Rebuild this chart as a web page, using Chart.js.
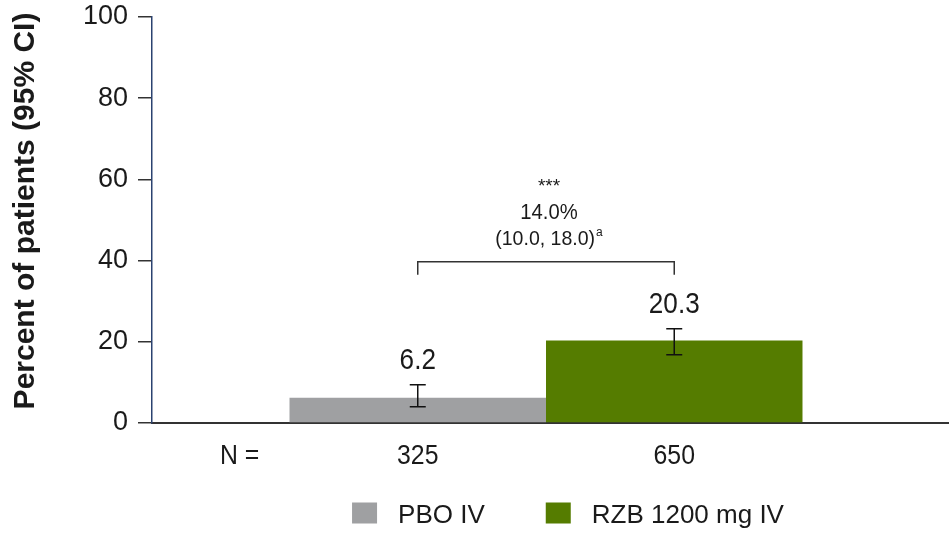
<!DOCTYPE html>
<html>
<head>
<meta charset="utf-8">
<script src="https://cdn.jsdelivr.net/npm/chart.js@4/dist/chart.umd.min.js"></script>
<style>
  html, body { margin: 0; padding: 0; background: #ffffff; }
  #wrap { width: 949px; height: 538px; position: relative; }
</style>
</head>
<body>
<div id="wrap"><canvas id="chart"></canvas></div>
<script>
// Treatment groups and their response rates (percent of patients, 95% CI)
const groups = ['PBO IV', 'RZB 1200 mg IV'];
const percents = [6.2, 20.3];
const ciLow = [4.0, 16.8];
const ciHigh = [9.4, 23.2];
const nPatients = [325, 650];
const barColors = ['#9FA0A2', '#557C00'];

// Treatment difference annotation
const diffStars = '***';
const diffValue = '14.0%';
const diffCI = '(10.0, 18.0)';
const diffFootnote = 'a';
const bracketLevel = 39.7;

// Y axis
const yMin = 0;
const yMax = 100;
const yStep = 20;
const yTitle = 'Percent of patients (95% CI)';

const FONT = "'Liberation Sans', Arial, Helvetica, sans-serif";
const TEXT = '#1a1a1a';

// draw text squeezed horizontally by sx around its anchor
function squeezedText(ctx, text, x, y, sx) {
  ctx.save();
  ctx.translate(x, y);
  ctx.scale(sx, 1);
  ctx.fillText(text, 0, 0);
  ctx.restore();
}

const overlay = {
  id: 'overlay',
  afterDatasetsDraw(chart) {
    const ctx = chart.ctx;
    const ys = chart.scales.y;
    const area = chart.chartArea;
    const bars = chart.data.datasets.map((d, i) => chart.getDatasetMeta(i).data[0]);

    ctx.save();

    // extend the baseline to the right edge
    const baseY = ys.getPixelForValue(0);
    ctx.strokeStyle = '#333333';
    ctx.lineWidth = 2;
    ctx.beginPath();
    ctx.moveTo(area.right, baseY);
    ctx.lineTo(chart.width, baseY);
    ctx.stroke();

    // y axis title
    ctx.save();
    ctx.translate(26, (area.top + area.bottom) / 2 - 9);
    ctx.rotate(-Math.PI / 2);
    ctx.fillStyle = TEXT;
    ctx.font = 'bold 30px ' + FONT;
    ctx.textAlign = 'center';
    ctx.textBaseline = 'middle';
    ctx.fillText(yTitle, 0, 0);
    ctx.restore();

    // error bars and value labels
    bars.forEach((bar, i) => {
      const x = bar.x;
      const top = ys.getPixelForValue(ciHigh[i]);
      const bot = ys.getPixelForValue(ciLow[i]);
      ctx.strokeStyle = '#111111';
      ctx.lineWidth = 1.5;
      ctx.beginPath();
      ctx.moveTo(x, top); ctx.lineTo(x, bot);
      ctx.moveTo(x - 8, top); ctx.lineTo(x + 8, top);
      ctx.moveTo(x - 8, bot); ctx.lineTo(x + 8, bot);
      ctx.stroke();

      ctx.fillStyle = TEXT;
      ctx.font = '30px ' + FONT;
      ctx.textAlign = 'center';
      ctx.textBaseline = 'alphabetic';
      squeezedText(ctx, percents[i].toFixed(1), x, top - 16, 0.87);
    });

    // bracket between the two groups
    const bx0 = bars[0].x, bx1 = bars[1].x;
    const by = ys.getPixelForValue(bracketLevel);
    ctx.strokeStyle = '#333333';
    ctx.lineWidth = 1.5;
    ctx.beginPath();
    ctx.moveTo(bx0, by + 13);
    ctx.lineTo(bx0, by);
    ctx.lineTo(bx1, by);
    ctx.lineTo(bx1, by + 13);
    ctx.stroke();

    const mid = (bx0 + bx1) / 2 + 3;
    ctx.fillStyle = TEXT;
    ctx.textAlign = 'center';
    ctx.textBaseline = 'alphabetic';
    ctx.font = '19px ' + FONT;
    ctx.fillText(diffStars, mid, by - 70);
    ctx.font = '22px ' + FONT;
    squeezedText(ctx, diffValue, mid, by - 43, 0.92);

    const sx = 0.93;
    ctx.font = '21px ' + FONT;
    const ciW = ctx.measureText(diffCI).width * sx;
    ctx.font = '12px ' + FONT;
    const supW = ctx.measureText(diffFootnote).width;
    const startX = mid - (ciW + supW + 1) / 2;
    ctx.textAlign = 'left';
    ctx.font = '21px ' + FONT;
    squeezedText(ctx, diffCI, startX, by - 17, sx);
    ctx.font = '12px ' + FONT;
    ctx.fillText(diffFootnote, startX + ciW + 1, by - 26);

    // N row
    const nY = baseY + 41;
    ctx.font = '27px ' + FONT;
    ctx.textAlign = 'left';
    squeezedText(ctx, 'N =', area.left + 68, nY, 0.92);
    ctx.textAlign = 'center';
    bars.forEach((bar, i) => squeezedText(ctx, String(nPatients[i]), bar.x, nY, 0.92));

    // legend
    ctx.font = '26px ' + FONT;
    const boxW = 25, boxH = 21, gap = 21, itemGap = 61;
    const widths = groups.map(g => ctx.measureText(g).width);
    const total = widths.reduce((s, w) => s + boxW + gap + w, 0) + itemGap * (groups.length - 1);
    let lx = (area.left + area.right) / 2 + 22 - total / 2;
    const legY = baseY + 90;
    ctx.textAlign = 'left';
    groups.forEach((g, i) => {
      ctx.fillStyle = barColors[i];
      ctx.fillRect(lx, legY - boxH / 2, boxW, boxH);
      ctx.fillStyle = TEXT;
      ctx.fillText(g, lx + boxW + gap, legY + 10);
      lx += boxW + gap + widths[i] + itemGap;
    });

    ctx.restore();
  }
};

new Chart(document.getElementById('chart'), {
  type: 'bar',
  data: {
    labels: [''],
    datasets: groups.map((g, i) => ({
      label: g,
      data: [percents[i]],
      backgroundColor: barColors[i],
      borderWidth: 0,
      categoryPercentage: 0.651,
      barPercentage: 1.0
    }))
  },
  options: {
    responsive: true,
    maintainAspectRatio: false,
    animation: false,
    layout: { padding: { top: 17, right: 9, bottom: 0, left: 0 } },
    plugins: {
      legend: { display: false },
      tooltip: { enabled: false }
    },
    scales: {
      x: {
        ticks: { display: false },
        grid: { display: false },
        border: { display: true, color: '#333333', width: 2 },
        afterFit(scale) { scale.height = 115; }
      },
      y: {
        min: yMin,
        max: yMax,
        ticks: {
          stepSize: yStep,
          color: TEXT,
          padding: 10,
          font: { family: FONT, size: 27 }
        },
        grid: {
          display: true,
          drawOnChartArea: false,
          drawTicks: true,
          tickLength: 14,
          color: '#333333',
          lineWidth: 1.5
        },
        border: { display: true, color: '#2B4270', width: 1.5 },
        title: { display: false },
        afterFit(scale) {
          scale.width = 152;
          scale.paddingTop = 0;
          scale.paddingBottom = 0;
        }
      }
    }
  },
  plugins: [overlay]
});
</script>
</body>
</html>
